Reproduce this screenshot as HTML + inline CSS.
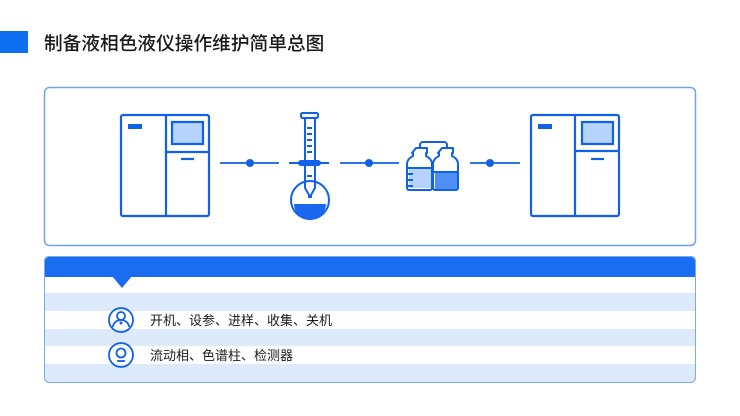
<!DOCTYPE html>
<html><head><meta charset="utf-8"><style>
body{margin:0;width:740px;height:416px;background:#fff;overflow:hidden;font-family:"Liberation Sans","Noto Sans CJK SC",sans-serif;}
</style></head><body>
<svg width="740" height="416" viewBox="0 0 740 416" xmlns="http://www.w3.org/2000/svg" style="position:absolute;left:0;top:0">
<rect x="0" y="31" width="28" height="22" fill="#0d6ef0"/>
<text x="44" y="50" font-family="Liberation Sans, Noto Sans CJK SC, sans-serif" font-size="18.7" fill="#1a1a1a" font-weight="500">制备液相色液仪操作维护简单总图</text>
<rect x="44.5" y="87.5" width="651" height="158" rx="5" fill="#fff" stroke="#6fa3f0" stroke-width="1.5"/>
<!-- machines -->
<g fill="none" stroke="#1060e8" stroke-width="2.2">
<rect x="121" y="115" width="88" height="101" rx="2"/>
<line x1="166" y1="115" x2="166" y2="216"/>
<line x1="166" y1="152" x2="209" y2="152"/>
<rect x="172" y="122" width="31" height="22" fill="#b6d3fb"/>
<line x1="181" y1="159" x2="194" y2="159"/>
<rect x="531" y="115" width="88" height="101" rx="2"/>
<line x1="575" y1="115" x2="575" y2="216"/>
<line x1="575" y1="151" x2="619" y2="151"/>
<rect x="582" y="122" width="31" height="22" fill="#b6d3fb"/>
<line x1="591" y1="159" x2="604" y2="159"/>
</g>
<rect x="128" y="124" width="14" height="5" fill="#1060e8"/>
<rect x="538" y="124" width="14" height="5" fill="#1060e8"/>
<!-- connectors -->
<g stroke="#1060e8" stroke-width="1.8">
<line x1="220" y1="163" x2="279" y2="163"/><line x1="340" y1="163" x2="399" y2="163"/><line x1="470" y1="163" x2="520" y2="163"/>
</g>
<g fill="#1060e8"><circle cx="250" cy="163" r="4"/><circle cx="369" cy="163" r="4"/><circle cx="490" cy="163" r="4"/></g>
<!-- flask -->
<g fill="none" stroke="#1060e8" stroke-width="2">
<circle cx="310" cy="200" r="19"/>
<path d="M305 118 V188 L309 195 V198 M315 118 V188 L311 195 V198"/>
<rect x="301" y="113" width="17" height="5" rx="1.5"/>
<path d="M307 128h5M307 134h5M307 140h5M307 146h5M307 152h5M307 176h5"/>
</g>
<line x1="289" y1="163" x2="329" y2="163" stroke="#1060e8" stroke-width="2"/>
<rect x="298" y="160" width="23" height="6" rx="3" fill="#1060e8"/>
<path d="M294 204 H326 A16 16 0 0 1 294 204 Z" fill="#1a68ee"/>
<!-- bottles -->
<g fill="none" stroke="#1060e8" stroke-width="2">
<path d="M420 148 V145 a3 3 0 0 1 3 -3 H444 a3 3 0 0 1 3 3 V148"/>
</g>
<g stroke="#1060e8" stroke-width="2" stroke-linejoin="round">
<path d="M409 168 h22 v20 h-22z" fill="#b6d3fb" stroke="none"/>
<path d="M416 148 h11 v5 h-1 v3 q6 3 6 8 v24 a2 2 0 0 1 -2 2 h-21 a2 2 0 0 1 -2 -2 v-24 q0 -5 6 -8 v-3 h-1 z" fill="none"/>
<line x1="408" y1="168" x2="432" y2="168"/>
<path d="M408 174h5M408 180h5M408 186h5" fill="none"/>
<path d="M435 172 h23 v17 h-23z" fill="#4d8ff5" stroke="none"/>
<path d="M442 148 h11 v5 h-1 v3 q6 3 6 8 v24 a2 2 0 0 1 -2 2 h-21 a2 2 0 0 1 -2 -2 v-24 q0 -5 6 -8 v-3 h-1 z" fill="none"/>
<line x1="434" y1="172" x2="458" y2="172"/>
</g>
<!-- bottom panel -->
<defs><clipPath id="c"><rect x="44" y="256" width="652" height="127" rx="5"/></clipPath></defs>
<g clip-path="url(#c)">
<rect x="44" y="256" width="652" height="127" fill="#fff"/>
<rect x="44" y="256" width="652" height="21" fill="#1a6cf0"/>
<rect x="44" y="293" width="652" height="18" fill="#dceafb"/>
<rect x="44" y="329" width="652" height="17" fill="#dceafb"/>
<rect x="44" y="364" width="652" height="19" fill="#dceafb"/>
</g>
<rect x="44.5" y="256.5" width="651" height="126" rx="5" fill="none" stroke="#7aa9f0" stroke-width="1"/>
<path d="M112 276 L132 276 L122 288 Z" fill="#1a6cf0"/>
<g fill="none" stroke="#1060e8" stroke-width="1.8">
<circle cx="121" cy="320" r="12"/>
<circle cx="121" cy="316" r="4"/>
<path d="M113 327 a8 7 0 0 1 16 0"/>
<circle cx="121" cy="355" r="12"/>
<circle cx="121" cy="353" r="4.5"/>
<line x1="117" y1="361" x2="125" y2="361"/>
</g>
<circle cx="121" cy="323" r="1.5" fill="#1060e8"/>
<text x="150" y="325" font-family="Liberation Sans, Noto Sans CJK SC, sans-serif" font-size="13" fill="#1a1a1a">开机、设参、进样、收集、关机</text>
<text x="150" y="360" font-family="Liberation Sans, Noto Sans CJK SC, sans-serif" font-size="13" fill="#1a1a1a">流动相、色谱柱、检测器</text>
</svg>
</body></html>
